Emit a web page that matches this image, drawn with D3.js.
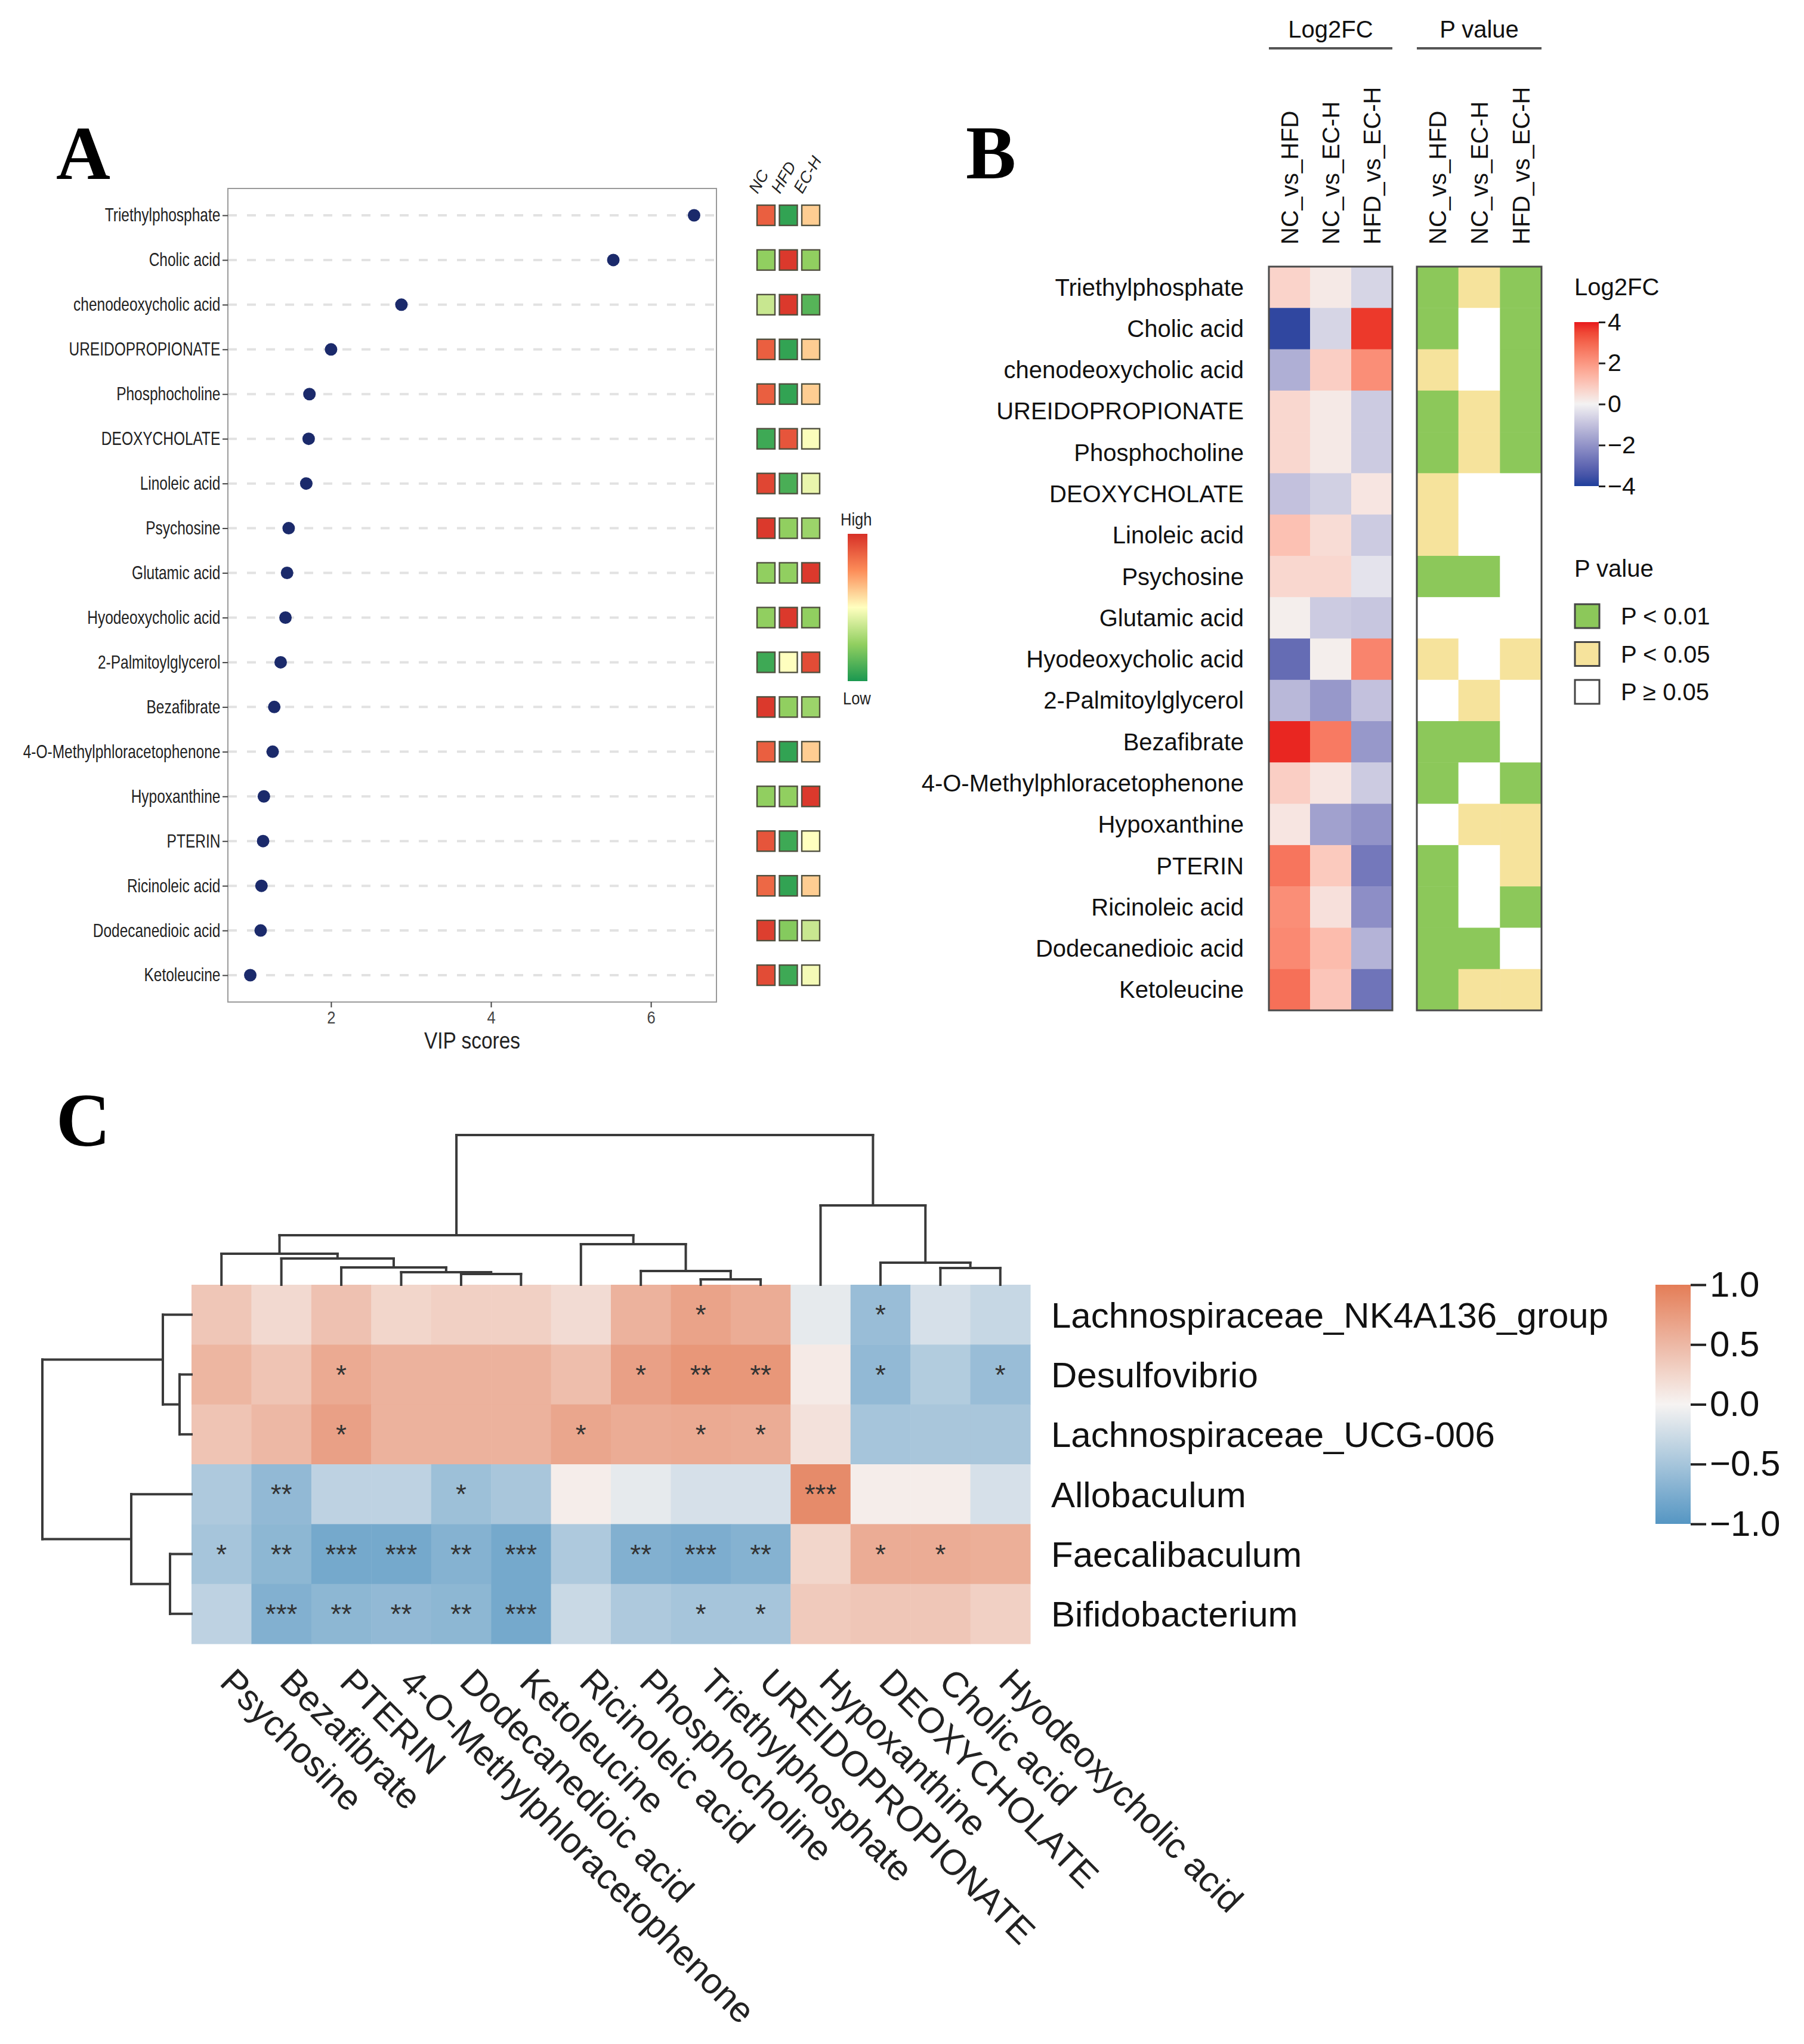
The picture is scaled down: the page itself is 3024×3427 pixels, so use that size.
<!DOCTYPE html>
<html>
<head>
<meta charset="utf-8">
<title></title>
<style>
  body { margin: 0; background: #fff; }
</style>
</head>
<body>
<div id="fig"></div>
<script src="https://d3js.org/d3.v7.min.js"></script>
<script>
const width = 3024;
const height = 3427;

// ---------- panel A data ----------
const metabolites = ["Triethylphosphate", "Cholic acid", "chenodeoxycholic acid", "UREIDOPROPIONATE",
  "Phosphocholine", "DEOXYCHOLATE", "Linoleic acid", "Psychosine", "Glutamic acid", "Hyodeoxycholic acid",
  "2-Palmitoylglycerol", "Bezafibrate", "4-O-Methylphloracetophenone", "Hypoxanthine", "PTERIN",
  "Ricinoleic acid", "Dodecanedioic acid", "Ketoleucine"];
const vipScores = [6.54, 5.53, 2.88, 2.0, 1.73, 1.72, 1.69, 1.47, 1.45, 1.43, 1.37, 1.29, 1.27, 1.16, 1.15, 1.13, 1.12, 0.99];
const vipTicks = [2, 4, 6];
const groups = ["NC", "HFD", "EC-H"];
const levelNC  = [0.75, -0.5, -0.25, 0.75, 0.75, -0.85, 0.88, 0.95, -0.5, -0.5, -0.85, 0.95, 0.75, -0.5, 0.8, 0.7, 0.92, 0.85];
const levelHFD = [-0.9, 0.95, 0.95, -0.9, -0.9, 0.8, -0.8, -0.5, -0.5, 0.95, 0.0, -0.5, -0.9, -0.5, -0.85, -0.9, -0.55, -0.85];
const levelECH = [0.22, -0.5, -0.75, 0.22, 0.22, -0.02, -0.1, -0.45, 0.95, -0.5, 0.85, -0.45, 0.22, 0.95, 0.0, 0.22, -0.25, -0.05];

// ---------- panel B data ----------
const comparisons = ["NC_vs_HFD", "NC_vs_EC-H", "HFD_vs_EC-H"];
const fcNCvsHFD  = [0.7, -3.8, -1.4, 0.6, 0.6, -1.0, 1.1, 0.6, 0.1, -2.9, -1.2, 3.9, 0.8, 0.3, 2.7, 2.2, 2.3, 2.8];
const fcNCvsECH  = [0.2, -0.6, 0.8, 0.2, 0.2, -0.7, 0.5, 0.6, -0.8, 0.1, -1.9, 2.6, 0.3, -1.7, 0.9, 0.4, 1.2, 1.0];
const fcHFDvsECH = [-0.6, 3.7, 2.2, -0.8, -0.8, 0.3, -0.8, -0.3, -0.9, 2.4, -1.0, -1.9, -0.8, -2.0, -2.6, -2.1, -1.3, -2.7];
const pNCvsHFD  = [1, 1, 2, 1, 1, 2, 2, 1, 3, 2, 3, 1, 1, 3, 1, 1, 1, 1];
const pNCvsECH  = [2, 3, 3, 2, 2, 3, 3, 1, 3, 3, 2, 1, 3, 2, 3, 3, 1, 2];
const pHFDvsECH = [1, 1, 1, 1, 1, 3, 3, 3, 3, 2, 3, 3, 1, 2, 2, 1, 3, 2];
const pLabels = ["P < 0.01", "P < 0.05", "P \u2265 0.05"];
const fcTicks = [4, 2, 0, -2, -4];

// ---------- panel C data ----------
const taxa = ["Lachnospiraceae_NK4A136_group", "Desulfovibrio", "Lachnospiraceae_UCG-006",
  "Allobaculum", "Faecalibaculum", "Bifidobacterium"];
const metabolitesC = ["Psychosine", "Bezafibrate", "PTERIN", "4-O-Methylphloracetophenone",
  "Dodecanedioic acid", "Ketoleucine", "Ricinoleic acid", "Phosphocholine", "Triethylphosphate",
  "UREIDOPROPIONATE", "Hypoxanthine", "DEOXYCHOLATE", "Cholic acid", "Hyodeoxycholic acid"];
const corrNK4A136 = [0.38, 0.22, 0.42, 0.25, 0.3, 0.3, 0.2, 0.55, 0.68, 0.6, -0.1, -0.58, -0.2, -0.3];
const corrDesulfo = [0.52, 0.4, 0.62, 0.55, 0.55, 0.55, 0.45, 0.7, 0.78, 0.78, 0.08, -0.62, -0.42, -0.58];
const corrUCG006  = [0.4, 0.5, 0.7, 0.55, 0.55, 0.55, 0.65, 0.6, 0.62, 0.6, 0.15, -0.5, -0.48, -0.48];
const corrAllobac = [-0.45, -0.62, -0.35, -0.35, -0.55, -0.48, 0.05, -0.1, -0.2, -0.2, 0.88, 0.05, 0.05, -0.2];
const corrFaecali = [-0.5, -0.65, -0.8, -0.8, -0.7, -0.8, -0.45, -0.72, -0.75, -0.7, 0.25, 0.6, 0.6, 0.58];
const corrBifido  = [-0.35, -0.72, -0.65, -0.62, -0.65, -0.8, -0.28, -0.45, -0.5, -0.5, 0.35, 0.38, 0.38, 0.3];
const starsNK4A136 = ["", "", "", "", "", "", "", "", "*", "", "", "*", "", ""];
const starsDesulfo = ["", "", "*", "", "", "", "", "*", "**", "**", "", "*", "", "*"];
const starsUCG006  = ["", "", "*", "", "", "", "*", "", "*", "*", "", "", "", ""];
const starsAllobac = ["", "**", "", "", "*", "", "", "", "", "", "***", "", "", ""];
const starsFaecali = ["*", "**", "***", "***", "**", "***", "", "**", "***", "**", "", "*", "*", ""];
const starsBifido  = ["", "***", "**", "**", "**", "***", "", "", "*", "*", "", "", "", ""];
const corrTicks = [1.0, 0.5, 0.0, -0.5, -1.0];

// cluster trees (merge heights, 0..1 of the dendrogram depth)
const colTree = {h: 1.0, c: [
  {h: 0.331, c: [
    {h: 0.207, c: ["Psychosine", {h: 0.175, c: ["Bezafibrate", {h: 0.116, c: ["PTERIN",
      {h: 0.084, c: ["4-O-Methylphloracetophenone", {h: 0.072, c: ["Dodecanedioic acid", "Ketoleucine"]}]}]}]}]},
    {h: 0.271, c: ["Ricinoleic acid", {h: 0.092, c: ["Phosphocholine", {h: 0.036, c: ["Triethylphosphate", "UREIDOPROPIONATE"]}]}]}
  ]},
  {h: 0.53, c: ["Hypoxanthine", {h: 0.147, c: ["DEOXYCHOLATE", {h: 0.112, c: ["Cholic acid", "Hyodeoxycholic acid"]}]}]}
]};
const rowTree = {h: 1.0, c: [
  {h: 0.192, c: ["Lachnospiraceae_NK4A136_group", {h: 0.08, c: ["Desulfovibrio", "Lachnospiraceae_UCG-006"]}]},
  {h: 0.404, c: ["Allobaculum", {h: 0.144, c: ["Faecalibaculum", "Bifidobacterium"]}]}
]};

const svg = d3.select('#fig').append('svg')
  .attr('width', width).attr('height', height)
  .style('font-family', '"Liberation Sans", Arial, sans-serif');
svg.append('rect').attr('width', width).attr('height', height).attr('fill', '#fff');

// panel letters
svg.selectAll('.letter').data([['A', 94, 300], ['B', 1619, 299], ['C', 94, 1921]])
  .join('text')
  .attr('x', d => d[1]).attr('y', d => d[2])
  .attr('font-family', '"Liberation Serif", "Times New Roman", serif')
  .attr('font-weight', 'bold').attr('font-size', 126)
  .text(d => d[0]);

// ================= PANEL A =================
const ax = d3.scaleLinear().domain([0.71, 6.82]).range([382, 1201]);
const ay = d3.scalePoint().domain(metabolites).range([316, 1680]).padding(0.6);
const gA = svg.append('g');

gA.selectAll('.grid').data(metabolites).join('line')
  .attr('x1', ax.range()[0]).attr('x2', ax.range()[1])
  .attr('y1', d => ay(d)).attr('y2', d => ay(d))
  .attr('stroke', '#e2e2e2').attr('stroke-width', 4).attr('stroke-dasharray', '15,17');

gA.append('rect')
  .attr('x', ax.range()[0]).attr('y', ay.range()[0])
  .attr('width', ax.range()[1] - ax.range()[0]).attr('height', ay.range()[1] - ay.range()[0])
  .attr('fill', 'none').attr('stroke', '#9a9a9a').attr('stroke-width', 2);

const yAxisA = gA.append('g').attr('transform', `translate(${ax.range()[0]},0)`)
  .call(d3.axisLeft(ay).tickSize(9).tickPadding(3));
yAxisA.select('.domain').remove();
yAxisA.selectAll('line').attr('stroke', '#444').attr('stroke-width', 2);
yAxisA.selectAll('text').attr('font-size', 31).attr('fill', '#222')
  .attr('x', -16).attr('transform', 'scale(0.79,1)');

const xAxisA = gA.append('g').attr('transform', `translate(0,${ay.range()[1]})`)
  .call(d3.axisBottom(ax).tickValues(vipTicks).tickFormat(d3.format('d')).tickSize(9).tickPadding(6));
xAxisA.select('.domain').remove();
xAxisA.selectAll('line').attr('stroke', '#444').attr('stroke-width', 2);
xAxisA.selectAll('text').attr('font-size', 30).attr('fill', '#444').attr('transform', 'scale(0.85,1)');

gA.append('text').attr('transform', `translate(${(ax.range()[0] + ax.range()[1]) / 2},1758) scale(0.88,1)`)
  .attr('text-anchor', 'middle').attr('font-size', 38).attr('fill', '#222').text('VIP scores');

gA.selectAll('.dot').data(metabolites).join('circle')
  .attr('cx', (d, i) => ax(vipScores[i])).attr('cy', d => ay(d))
  .attr('r', 10.5).attr('fill', '#1b2a6b');

// group level squares
const levelColor = d3.scaleLinear().domain([-1, -0.5, 0, 0.5, 1])
  .range(['#1a9850', '#91cf60', '#ffffbf', '#fc8d59', '#d73027']);
const gx = d3.scaleBand().domain(groups).range([1269, 1374]).paddingInner(0.2);
const levels = {"NC": levelNC, "HFD": levelHFD, "EC-H": levelECH};
const sqData = [];
metabolites.forEach((m, i) => groups.forEach(g => sqData.push({m, g, v: levels[g][i]})));
gA.selectAll('.sq').data(sqData).join('rect')
  .attr('x', d => gx(d.g)).attr('y', d => ay(d.m) - 17)
  .attr('width', gx.bandwidth()).attr('height', 34)
  .attr('fill', d => levelColor(d.v)).attr('stroke', '#50503f').attr('stroke-width', 2.4);

gA.selectAll('.glab').data(groups).join('text')
  .attr('transform', d => `translate(${gx(d) + gx.bandwidth() / 2 - 14},${ay.range()[0] + 10}) rotate(-60)`)
  .attr('font-size', 27).attr('font-style', 'italic').attr('fill', '#222').text(d => d);

// level legend
const defs = svg.append('defs');
const gradA = defs.append('linearGradient').attr('id', 'gradA')
  .attr('x1', 0).attr('y1', 0).attr('x2', 0).attr('y2', 1);
[1, 0.5, 0, -0.5, -1].forEach((v, i) => gradA.append('stop').attr('offset', i / 4).attr('stop-color', levelColor(v)));
gA.append('rect').attr('x', 1421).attr('y', 895).attr('width', 33).attr('height', 247).attr('fill', 'url(#gradA)');
gA.append('text').attr('transform', 'translate(1409,881) scale(0.85,1)').attr('font-size', 30).attr('fill', '#222').text('High');
gA.append('text').attr('transform', 'translate(1413,1181) scale(0.85,1)').attr('font-size', 30).attr('fill', '#222').text('Low');

// ================= PANEL B =================
const gB = svg.append('g');
const by = d3.scaleBand().domain(metabolites).range([447, 1694]);
const bxFC = d3.scaleBand().domain(comparisons).range([2127, 2334]);
const bxP = d3.scaleBand().domain(comparisons).range([2375, 2584]);
const fcColor = d3.scaleLinear().domain([-4, 0, 4]).range(['#1f3f9c', '#f3f2f2', '#e8191c'])
  .interpolate(d3.interpolateLab).clamp(true);
const pColors = ['#8cc85a', '#f6e39c', '#ffffff'];
const fcCols = {"NC_vs_HFD": fcNCvsHFD, "NC_vs_EC-H": fcNCvsECH, "HFD_vs_EC-H": fcHFDvsECH};
const pCols = {"NC_vs_HFD": pNCvsHFD, "NC_vs_EC-H": pNCvsECH, "HFD_vs_EC-H": pHFDvsECH};
const cellsB = [];
metabolites.forEach((m, i) => comparisons.forEach(c => cellsB.push({m, c, fc: fcCols[c][i], p: pCols[c][i]})));

gB.selectAll('.fc').data(cellsB).join('rect')
  .attr('x', d => bxFC(d.c)).attr('y', d => by(d.m))
  .attr('width', bxFC.bandwidth() + 0.5).attr('height', by.bandwidth() + 0.5)
  .attr('fill', d => fcColor(d.fc));
gB.selectAll('.pv').data(cellsB).join('rect')
  .attr('x', d => bxP(d.c)).attr('y', d => by(d.m))
  .attr('width', bxP.bandwidth() + 0.5).attr('height', by.bandwidth() + 0.5)
  .attr('fill', d => pColors[d.p - 1]);
[bxFC, bxP].forEach(s => {
  gB.append('rect').attr('x', s.range()[0]).attr('y', by.range()[0])
    .attr('width', s.range()[1] - s.range()[0]).attr('height', by.range()[1] - by.range()[0])
    .attr('fill', 'none').attr('stroke', '#4a4a4a').attr('stroke-width', 3);
});

gB.selectAll('.rlab').data(metabolites).join('text')
  .attr('x', 2085).attr('y', d => by(d) + by.bandwidth() / 2).attr('dy', '0.35em')
  .attr('text-anchor', 'end').attr('font-size', 40).attr('fill', '#111').text(d => d);

[bxFC, bxP].forEach(s => {
  gB.selectAll(null).data(comparisons).join('text')
    .attr('transform', d => `translate(${s(d) + s.bandwidth() / 2},410) rotate(-90)`)
    .attr('dy', '0.36em').attr('font-size', 40).attr('fill', '#111').text(d => d);
});

[[bxFC, 'Log2FC'], [bxP, 'P value']].forEach(([s, t]) => {
  gB.append('text').attr('x', (s.range()[0] + s.range()[1]) / 2).attr('y', 63)
    .attr('text-anchor', 'middle').attr('font-size', 40).attr('fill', '#111').text(t);
  gB.append('line').attr('x1', s.range()[0]).attr('x2', s.range()[1]).attr('y1', 81).attr('y2', 81)
    .attr('stroke', '#555').attr('stroke-width', 4);
});

// Log2FC legend
gB.append('text').attr('x', 2639).attr('y', 495).attr('font-size', 40).attr('fill', '#111').text('Log2FC');
const fcBarY = d3.scaleLinear().domain([4, -4]).range([540, 815]);
const gradB = defs.append('linearGradient').attr('id', 'gradB')
  .attr('x1', 0).attr('y1', 0).attr('x2', 0).attr('y2', 1);
d3.range(4, -4.01, -0.5).forEach(v => gradB.append('stop').attr('offset', (4 - v) / 8).attr('stop-color', fcColor(v)));
gB.append('rect').attr('x', 2639).attr('y', fcBarY(4)).attr('width', 41).attr('height', fcBarY(-4) - fcBarY(4)).attr('fill', 'url(#gradB)');
const fcAxis = gB.append('g').attr('transform', 'translate(2680,0)')
  .call(d3.axisRight(fcBarY).tickValues(fcTicks).tickSize(11).tickPadding(4).tickFormat(d => d3.format('')(d).replace('-', '\u2212')));
fcAxis.select('.domain').remove();
fcAxis.selectAll('line').attr('stroke', '#222').attr('stroke-width', 3);
fcAxis.selectAll('text').attr('font-size', 41).attr('fill', '#111').attr('font-family', '"Liberation Sans", Arial, sans-serif');

// P value legend
gB.append('text').attr('x', 2639).attr('y', 967).attr('font-size', 40).attr('fill', '#111').text('P value');
const keyY = d3.scalePoint().domain(pLabels).range([1033, 1160]);
gB.selectAll('.key').data(pLabels).join('rect')
  .attr('x', 2640).attr('y', d => keyY(d) - 20).attr('width', 41).attr('height', 40)
  .attr('fill', (d, i) => pColors[i]).attr('stroke', '#444').attr('stroke-width', 3);
gB.selectAll('.keylab').data(pLabels).join('text')
  .attr('x', 2717).attr('y', d => keyY(d)).attr('dy', '0.36em')
  .attr('font-size', 40).attr('fill', '#111').text(d => d);

// ================= PANEL C =================
const gC = svg.append('g');
const cx = d3.scaleBand().domain(metabolitesC).range([321, 1727]);
const cy = d3.scaleBand().domain(taxa).range([2154, 2756]);
const corrColor = d3.scaleLinear().domain([-1, 0, 1]).range(['#5596c3', '#f6f3f2', '#e47d57']).clamp(true);
const corrRows = [corrNK4A136, corrDesulfo, corrUCG006, corrAllobac, corrFaecali, corrBifido];
const starRows = [starsNK4A136, starsDesulfo, starsUCG006, starsAllobac, starsFaecali, starsBifido];
const cellsC = [];
taxa.forEach((t, i) => metabolitesC.forEach((m, j) => cellsC.push({t, m, r: corrRows[i][j], s: starRows[i][j]})));

gC.selectAll('.cc').data(cellsC).join('rect')
  .attr('x', d => cx(d.m)).attr('y', d => cy(d.t))
  .attr('width', cx.bandwidth() + 0.5).attr('height', cy.bandwidth() + 0.5)
  .attr('fill', d => corrColor(d.r));
gC.selectAll('.st').data(cellsC.filter(d => d.s)).join('text')
  .attr('x', d => cx(d.m) + cx.bandwidth() / 2).attr('y', d => cy(d.t) + cy.bandwidth() / 2 + 16)
  .attr('text-anchor', 'middle').attr('font-size', 46).attr('fill', '#333').text(d => d.s);

// dendrograms
function drawTree(node, leafPos, depthPos, horizontal) {
  const segs = [];
  function walk(n) {
    if (typeof n === 'string') return {p: leafPos(n), h: 0};
    const kids = n.c.map(walk);
    const p = d3.mean(kids, k => k.p);
    const lo = d3.min(kids, k => k.p), hi = d3.max(kids, k => k.p);
    segs.push([lo, n.h, hi, n.h]);
    kids.forEach(k => segs.push([k.p, n.h, k.p, k.h]));
    return {p, h: n.h};
  }
  walk(node);
  gC.selectAll(null).data(segs).join('line')
    .each(function(d) {
      const sel = d3.select(this);
      if (horizontal) {
        sel.attr('x1', d[0]).attr('x2', d[2]).attr('y1', depthPos(d[1])).attr('y2', depthPos(d[3]));
      } else {
        sel.attr('y1', d[0]).attr('y2', d[2]).attr('x1', depthPos(d[1])).attr('x2', depthPos(d[3]));
      }
    })
    .attr('stroke', '#3a3a3a').attr('stroke-width', 4).attr('stroke-linecap', 'square');
}
const colDepth = d3.scaleLinear().domain([0, 1]).range([cy.range()[0], 1903]);
const rowDepth = d3.scaleLinear().domain([0, 1]).range([cx.range()[0], 71]);
drawTree(colTree, m => cx(m) + cx.bandwidth() / 2, colDepth, true);
drawTree(rowTree, t => cy(t) + cy.bandwidth() / 2, rowDepth, false);

gC.selectAll('.tlab').data(taxa).join('text')
  .attr('x', 1762).attr('y', d => cy(d) + cy.bandwidth() / 2).attr('dy', '0.36em')
  .attr('font-size', 60).attr('fill', '#111').text(d => d);
gC.selectAll('.mlab').data(metabolitesC).join('text')
  .attr('transform', d => `translate(${cx(d) + cx.bandwidth() / 2 + 10},${cy.range()[1] + 52}) rotate(45)`)
  .attr('dy', '0.36em').attr('font-size', 60).attr('fill', '#222').text(d => d);

// correlation legend
const corrBarY = d3.scaleLinear().domain([1, -1]).range([2154, 2555]);
const gradC = defs.append('linearGradient').attr('id', 'gradC')
  .attr('x1', 0).attr('y1', 0).attr('x2', 0).attr('y2', 1);
d3.range(1, -1.01, -0.25).forEach(v => gradC.append('stop').attr('offset', (1 - v) / 2).attr('stop-color', corrColor(v)));
gC.append('rect').attr('x', 2775).attr('y', corrBarY(1)).attr('width', 59).attr('height', corrBarY(-1) - corrBarY(1)).attr('fill', 'url(#gradC)');
const cAxis = gC.append('g').attr('transform', 'translate(2834,0)')
  .call(d3.axisRight(corrBarY).tickValues(corrTicks).tickSize(26).tickPadding(6)
    .tickFormat(d => d3.format('.1f')(d).replace('-', '\u2212')));
cAxis.select('.domain').remove();
cAxis.selectAll('line').attr('stroke', '#222').attr('stroke-width', 4);
cAxis.selectAll('text').attr('font-size', 60).attr('fill', '#111').attr('font-family', '"Liberation Sans", Arial, sans-serif');
</script>
</body>
</html>
